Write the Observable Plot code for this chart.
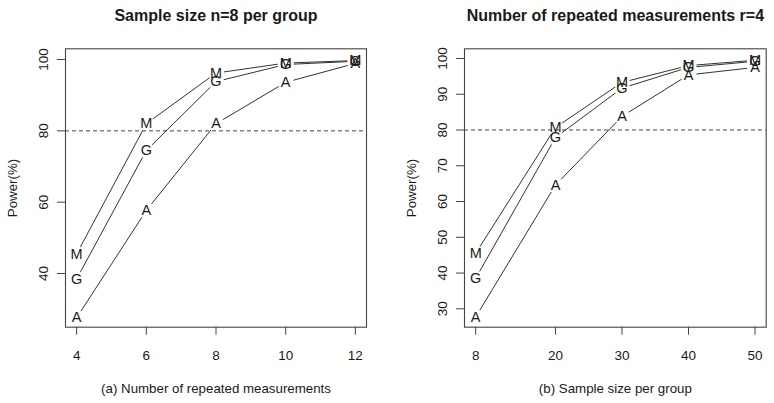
<!DOCTYPE html>
<html>
<head>
<meta charset="utf-8">
<script src="https://cdn.jsdelivr.net/npm/d3@7"></script>
<script src="https://cdn.jsdelivr.net/npm/@observablehq/plot@0.6"></script>
<style>
  html, body { margin: 0; padding: 0; background: #fff; }
  #wrap { display: flex; width: 774px; height: 403px; }
  #wrap svg { display: block; }
</style>
</head>
<body>
<div id="wrap"></div>
<script>
// ---- data ----
const seriesLetters = ["M", "G", "A"];

// (a) sample size n=8 per group, varying number of repeated measurements
const repeatedMeasurements = [4, 6, 8, 10, 12];
const powerM_a = [45.5, 82.0, 96.2, 99.0, 99.7];
const powerG_a = [38.5, 74.5, 93.8, 98.6, 99.5];
const powerA_a = [27.6, 57.7, 82.0, 93.6, 98.9];
const xTicks_a = [4, 6, 8, 10, 12];
const yTicks_a = [40, 60, 80, 100];

// (b) number of repeated measurements r=4, varying sample size per group
const sampleSizes = [8, 20, 30, 40, 50];
const powerM_b = [45.5, 80.7, 93.3, 98.0, 99.5];
const powerG_b = [38.5, 77.9, 91.7, 97.5, 99.2];
const powerA_b = [27.7, 64.6, 83.8, 95.4, 97.5];
const xTicks_b = [8, 20, 30, 40, 50];
const yTicks_b = [30, 40, 50, 60, 70, 80, 90, 100];

const referenceLine = [80];

const titles = ["Sample size n=8 per group", "Number of repeated measurements r=4"];
const captions = ["(a) Number of repeated measurements", "(b) Sample size per group"];
const yLabel = "Power(%)";

// ---- helpers ----
function toPoints(xs, seriesArrays) {
  const pts = [];
  seriesArrays.forEach((vals, s) => {
    vals.forEach((v, i) => pts.push({letter: seriesLetters[s], x: xs[i], y: v}));
  });
  return pts;
}
function toSegments(xs, seriesArrays) {
  const segs = [];
  seriesArrays.forEach((vals, s) => {
    for (let i = 0; i < vals.length - 1; i++) {
      segs.push({letter: seriesLetters[s], x1: xs[i], y1: vals[i], x2: xs[i + 1], y2: vals[i + 1]});
    }
  });
  return segs;
}

const FONT = "'Liberation Sans', Arial, Helvetica, sans-serif";
const INK = "#1a1a1a";

function panel({xs, series, xTicks, yTicks, xDomain, yDomain, title, caption, marginLeft, marginRight}) {
  const pts = toPoints(xs, series);
  const segs = toSegments(xs, series);
  return Plot.plot({
    width: 387,
    height: 403,
    marginTop: 48.3,
    marginBottom: 76.3,
    marginLeft,
    marginRight,
    style: {fontFamily: FONT, background: "#fff", color: INK, overflow: "visible"},
    x: {domain: xDomain, nice: false},
    y: {domain: yDomain, nice: false},
    marks: [
      Plot.ruleY(referenceLine, {stroke: "#444", strokeWidth: 1, strokeDasharray: "4,3"}),
      Plot.arrow(segs, {x1: "x1", y1: "y1", x2: "x2", y2: "y2", headLength: 0, inset: 8,
                        stroke: "#333", strokeWidth: 1, strokeLinecap: "butt"}),
      Plot.text(pts, {x: "x", y: "y", text: "letter", fontSize: 14.5, fill: INK, lineAnchor: "middle"}),
      Plot.frame({stroke: "#444", strokeWidth: 1.1}),
      // x axis: ticks + labels
      Plot.axisX({ticks: xTicks, tickSize: 8, tickPadding: 15, fontSize: 13.5, label: null,
                  stroke: "#444", fill: INK, tickFormat: d => String(d)}),
      // y axis: ticks, labels drawn as rotated text
      Plot.axisY({ticks: yTicks, tickSize: 8, label: null, stroke: "#444", tickFormat: () => ""}),
      Plot.text(yTicks, {y: d => d, text: d => String(d), frameAnchor: "left", dx: -21.7,
                         rotate: -90, textAnchor: "middle", lineAnchor: "middle", fontSize: 13.5, fill: INK}),
      Plot.text([yLabel], {text: d => d, frameAnchor: "left", dx: -52.5, rotate: -90,
                           textAnchor: "middle", lineAnchor: "middle", fontSize: 13.3, fill: INK}),
      Plot.text([title], {text: d => d, frameAnchor: "top", dy: -33.3, lineAnchor: "middle",
                          fontSize: 16, fontWeight: "bold", fill: INK}),
      Plot.text([caption], {text: d => d, frameAnchor: "bottom", dy: 61.6, lineAnchor: "middle",
                            fontSize: 13.3, fill: INK})
    ]
  });
}

const wrap = document.getElementById("wrap");
wrap.appendChild(panel({
  xs: repeatedMeasurements,
  series: [powerM_a, powerG_a, powerA_a],
  xTicks: xTicks_a, yTicks: yTicks_a,
  xDomain: [3.68, 12.32], yDomain: [24.96, 103.0],
  title: titles[0], caption: captions[0],
  marginLeft: 65, marginRight: 21
}));
wrap.appendChild(panel({
  xs: sampleSizes,
  series: [powerM_b, powerG_b, powerA_b],
  xTicks: xTicks_b, yTicks: yTicks_b,
  xDomain: [6.32, 51.68], yDomain: [24.86, 102.7],
  title: titles[1], caption: captions[1],
  marginLeft: 77, marginRight: 8.3
}));
</script>
</body>
</html>
